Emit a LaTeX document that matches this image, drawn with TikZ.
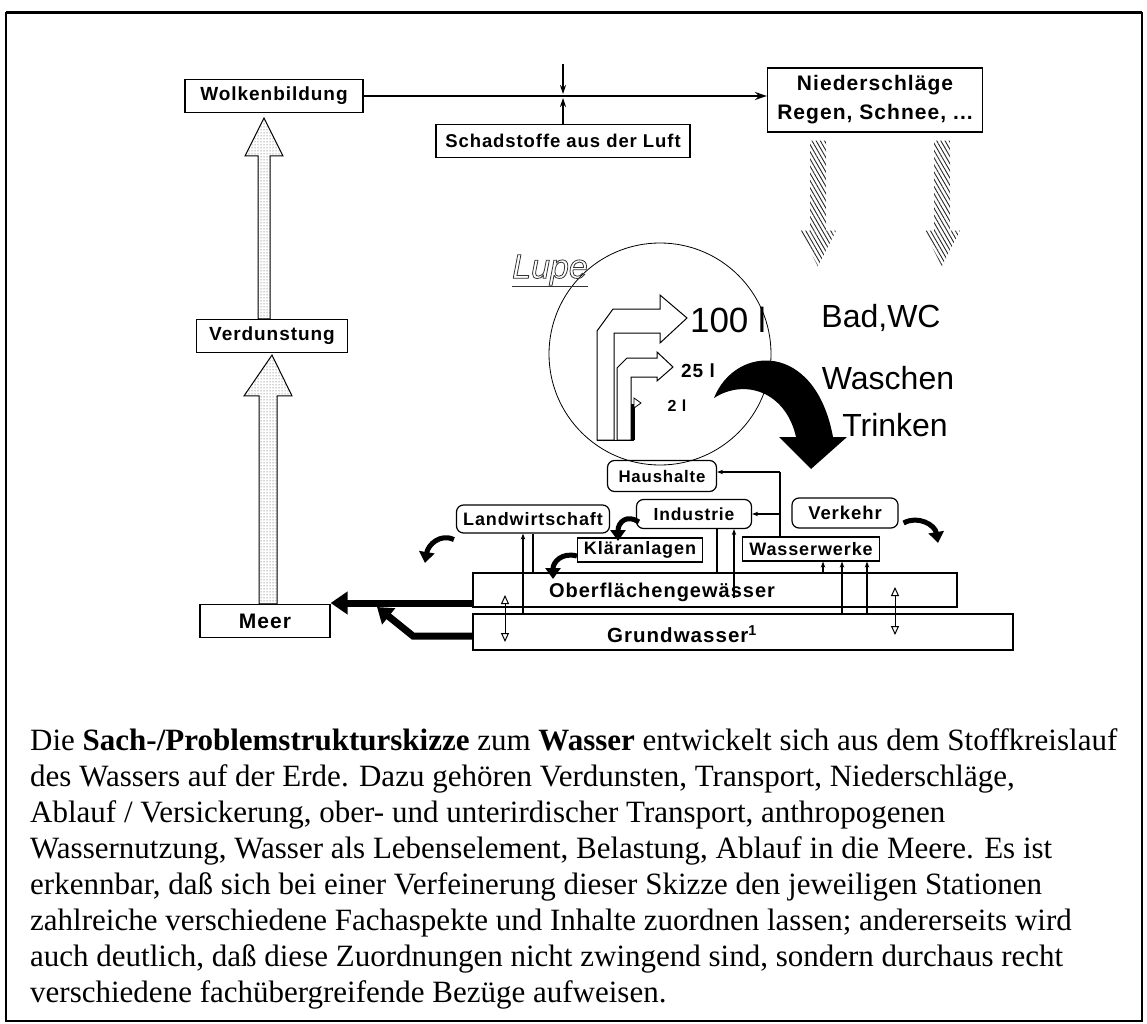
\documentclass[tikz,border=0pt]{standalone}
\usepackage{fontspec}
\setmainfont{Liberation Serif}
\newfontfamily\df[LetterSpace=5]{Liberation Sans}
\newfontfamily\hf{Liberation Sans}
\usetikzlibrary{patterns,patterns.meta,calc,arrows.meta}
\newcommand{\fs}[1]{\fontsize{#1}{#1}\selectfont}
\begin{document}
\begin{tikzpicture}[x=1pt,y=-1pt,
  lbl/.style={draw, line width=1.2pt, inner sep=0pt, fill=white},
  rlbl/.style={lbl, rounded corners=7pt},
  thinl/.style={line width=1.2pt},
  tipa/.style={-{Stealth[length=6pt,width=4.5pt]}},
  fat/.style={line width=7pt, -{Triangle[length=17pt,width=22pt]}},
  curv/.style={line width=5pt, -{Triangle[length=11pt,width=15pt]}},
  dotarrow/.style={draw, line width=1pt, pattern=dots, pattern color=black!75},
  hatch/.style={pattern={Lines[angle=-60, distance=3.6pt, line width=0.9pt]}, pattern color=black!85},
  dbl/.style={line width=1pt, {Triangle[open,length=9pt,width=8pt]}-{Triangle[open,length=9pt,width=8pt]}},
  para/.style={anchor=base west, inner sep=0pt, font=\fs{31}}
]
\useasboundingbox (0,0) rectangle (1147,1024);
% frame
\draw[line width=1.6pt] (6,1021) -- (6,13) -- (1142,13) -- (1142,1021) -- cycle;
\draw[line width=3pt] (6,13) -- (1142,13);

% boxes
\node[lbl, minimum width=178pt, minimum height=33pt, font=\df\bfseries\fs{19}] (wolk) at (274,96) {Wolkenbildung};
\node[lbl, minimum width=254pt, minimum height=33pt, font=\df\bfseries\fs{18.5}] (schad) at (563,141) {Schadstoffe aus der Luft};
\node[lbl, minimum width=215pt, minimum height=64pt, align=center, font=\df\bfseries\fontsize{21}{29}\selectfont] (nied) at (875,100) {Niederschläge\\Regen, Schnee, ...};
\node[lbl, minimum width=151pt, minimum height=33pt, font=\df\bfseries\fs{19}] (verd) at (272,336) {Verdunstung};
\node[lbl, minimum width=130pt, minimum height=33pt, font=\df\bfseries\fs{21}] (meer) at (265,621) {Meer};

% water bodies
\node[lbl, minimum width=540pt, minimum height=36pt] (grund) at (743,632) {};
\node[lbl, minimum width=484pt, minimum height=34pt] (ober) at (715,590) {};
\node[font=\df\bfseries\fs{20}] (obertxt) at (662,592) {Oberflächengewässer};
\node[font=\df\bfseries\fs{20.5}] (grundtxt) at (682,634) {Grundwasser\textsuperscript{1}};

% users
\node[rlbl, minimum width=109pt, minimum height=31pt, font=\df\bfseries\fs{16.8}] (haus) at (662,476) {Haushalte};
\node[rlbl, minimum width=153pt, minimum height=28pt, font=\df\bfseries\fs{18}] (land) at (533,519) {Landwirtschaft};
\node[rlbl, minimum width=115pt, minimum height=29pt, font=\df\bfseries\fs{17.5}] (indu) at (694,514) {Industrie};
\node[lbl, minimum width=125pt, minimum height=24pt, font=\df\bfseries\fs{18}] (klae) at (640,550) {Kläranlagen};
\node[lbl, minimum width=137pt, minimum height=24pt, font=\df\bfseries\fs{18}] (wass) at (811,549) {Wasserwerke};
\node[rlbl, minimum width=106pt, minimum height=30pt, font=\df\bfseries\fs{18.5}] (verk) at (845,513) {Verkehr};

% top transport line
\draw[line width=2.2pt, -{Stealth[length=12pt,width=8pt]}] (wolk.east) -- (nied.west |- wolk.east);
\coordinate (pol) at (563,64);
\draw[thinl, -{Stealth[length=9pt,width=6pt]}] (pol) -- (563,94);
\draw[thinl, -{Stealth[length=9pt,width=6pt]}] (schad.north) -- (563,98);

% hatched precipitation arrows
\fill[hatch] ($(nied.south)+(-65,8)$) -- ++(16,0) -- ++(0,90) -- ++(10,0) -- ++(-18,36) -- ++(-18,-36) -- ++(10,0) -- cycle;
\fill[hatch] ($(nied.south)+(59,8)$) -- ++(16,0) -- ++(0,90) -- ++(10,0) -- ++(-18,36) -- ++(-18,-36) -- ++(10,0) -- cycle;

% dotted evaporation arrows
\path[dotarrow] ($(meer.north)+(-6,0)$) -- ++(0,-208) -- ++(-15,0) -- ($(verd.south)+(0,2)$) -- ($(meer.north)+(27,-208)$) -- ++(-15,0) -- ++(0,208) -- cycle;
\path[dotarrow] ($(verd.north)+(-14,0)$) -- ++(0,-163) -- ++(-13,0) -- ($(wolk.south)+(-10,5)$) -- ($(verd.north)+(11,-163)$) -- ++(-13,0) -- ++(0,163) -- cycle;

% magnifier
\node[draw, circle, line width=0.8pt, minimum size=222pt, inner sep=0pt] (lupe) at (660,354) {};
\node[font=\hf\itshape\fs{34}, text=black!80] (lupetxt) at (550,271) {\special{pdf:literal direct 1 Tr 0.8 w}\underline{Lupe}\special{pdf:literal direct 0 Tr}};

\draw[line width=1pt, fill=white] (597,440) -- (597,331) -- (613,309) -- (660,309) -- (660,295) -- (687,318) -- (660,343) -- (660,333) -- (614,333) -- (614,440) -- cycle;
\draw[line width=1pt, fill=white] (617,440) -- (617,368) -- (627,358) -- (657,358) -- (657,352) -- (673,367) -- (657,381) -- (657,377) -- (631,377) -- (631,440) -- cycle;
\draw[line width=4pt] (633,440) -- (633,404);
\draw[line width=0.8pt, fill=white] (634,398) -- (641,403) -- (634,408) -- cycle;
\draw[line width=1pt] (597,440) -- (634,440);

\node[font=\hf\fs{35}] (l100) at (728,320) {100 l};
\node[font=\df\bfseries\fs{19}] (l25) at (698,371) {25 l};
\node[font=\df\bfseries\fs{16}] (l2) at (677,406) {2 l};
\node[font=\hf\fs{32}] (bad) at (881,318) {Bad,WC};
\node[font=\hf\fs{32}] (waschen) at (888,378) {Waschen};
\node[font=\hf\fs{32}] (trinken) at (895,425) {Trinken};

% big black curved arrow
\fill (714,398) .. controls (735,345) and (815,340) .. (833,437) -- (847,437) -- (811,469) -- (779,437) -- (796,437) .. controls (786,392) and (745,378) .. cycle;

% supply lines
\coordinate (junc) at (780,472);
\draw[thinl] (wass.north -| junc) -- (junc);
\draw[thinl, tipa] (junc) -- (haus.east |- junc);
\draw[thinl, tipa] (780,514) -- (indu.east |- 0,514);

\draw[thinl, tipa] (grund.north -| 523,0) -- (land.south -| 523,0);
\draw[thinl] (land.south -| 533,0) -- (ober.north -| 533,0);
\draw[thinl] (indu.south -| 717,0) -- (ober.north -| 717,0);
\draw[thinl, tipa] (734,598) -- (indu.south -| 734,0);
\draw[thinl, tipa] (ober.north -| 823,0) -- (wass.south -| 823,0);
\draw[thinl, tipa] (grund.north -| 842,0) -- (wass.south -| 842,0);
\draw[thinl, tipa] (grund.north -| 867,0) -- (wass.south -| 867,0);

% exchange arrows
\draw[dbl] (505,595) -- (505,642);
\draw[dbl] (895,587) -- (895,635);

% flows to the sea
\draw[fat] (ober.west |- 0,603) -- (meer.east |- 0,603);
\draw[fat, -{Triangle[length=15pt,width=20pt]}] (grund.west |- 0,636) -- (413,636) -- (377,607);

% small curved arrows
\draw[curv] ($(land.south west)+(-2,6)$) .. controls (440,533) and (428,545) .. (425,563);
\draw[curv] ($(indu.west)+(3,8)$) .. controls (627,514) and (618,522) .. (618,541);
\draw[curv] ($(klae.west)+(0,6)$) .. controls (562,552) and (553,562) .. (553,579);
\draw[curv] ($(verk.east)+(5,10)$) .. controls (918,515) and (935,525) .. (938,543);

% text
\node[para] (t1) at (30,750) {Die \textbf{Sach-/Problemstrukturskizze} zum \textbf{Wasser} entwickelt sich aus dem Stoffkreislauf};
\node[para] (t2) at (30,786) {des Wassers auf der Erde. Dazu gehören Verdunsten, Transport, Niederschläge,};
\node[para] (t3) at (30,822) {Ablauf / Versickerung, ober- und unterirdischer Transport, anthropogenen};
\node[para] (t4) at (30,858) {Wassernutzung, Wasser als Lebenselement, Belastung, Ablauf in die Meere. Es ist};
\node[para] (t5) at (30,894) {erkennbar, daß sich bei einer Verfeinerung dieser Skizze den jeweiligen Stationen};
\node[para] (t6) at (30,930) {zahlreiche verschiedene Fachaspekte und Inhalte zuordnen lassen; andererseits wird};
\node[para] (t7) at (30,966) {auch deutlich, daß diese Zuordnungen nicht zwingend sind, sondern durchaus recht};
\node[para] (t8) at (30,1002) {verschiedene fachübergreifende Bezüge aufweisen.};
\end{tikzpicture}
\end{document}
